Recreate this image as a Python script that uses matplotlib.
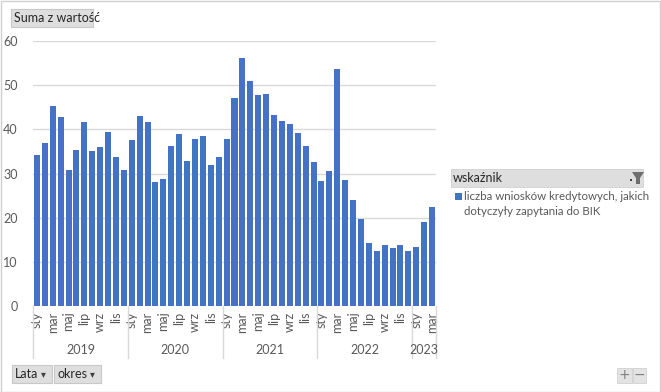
import numpy as np
from matplotlib import pyplot as plt
from matplotlib.patches import Rectangle, Polygon
from matplotlib.lines import Line2D
from matplotlib.transforms import blended_transform_factory

plt.rcParams['font.family'] = ['Lato', 'DejaVu Sans']

W, H = 661, 392
GRAY_TXT = '#595959'
BAR_COLOR = '#4472C4'
GRID = '#D9D9D9'
FS = 8.5

MONTHS = ['sty', 'lut', 'mar', 'kwi', 'maj', 'cze', 'lip', 'sie', 'wrz', 'paź', 'lis', 'gru']
YEARS = ['2019', '2020', '2021', '2022', '2023']
MONTHS_PER_YEAR = [12, 12, 12, 12, 3]

values_2019 = [34.3, 37.0, 45.2, 42.7, 30.8, 35.4, 41.6, 35.2, 36.0, 39.3, 33.7, 30.7]
values_2020 = [37.6, 43.0, 41.7, 28.0, 28.8, 36.2, 38.9, 32.9, 37.9, 38.5, 31.9, 33.7]
values_2021 = [37.7, 47.2, 56.2, 51.0, 47.8, 48.0, 43.2, 42.0, 41.3, 39.1, 36.2, 32.7]
values_2022 = [28.2, 30.5, 53.6, 28.5, 24.0, 19.7, 14.3, 12.5, 13.7, 13.1, 13.7, 12.4]
values_2023 = [13.4, 19.0, 22.4]

SERIES_NAME = 'liczba wniosków kredytowych, jakich\ndotyczyły zapytania do BIK'

values = values_2019 + values_2020 + values_2021 + values_2022 + values_2023
month_labels = []
for n in MONTHS_PER_YEAR:
    month_labels += MONTHS[:n]


def px(x, y):
    # pixel coords (from top-left) -> figure fraction
    return x / W, 1 - y / H


fig = plt.figure(figsize=(W / 100, H / 100), dpi=100)
fig.patch.set_facecolor('white')

ax = fig.add_axes([33 / W, 1 - 306 / H, 403 / W, 265 / H])
x = np.arange(len(values))
ax.bar(x, values, width=0.76, color=BAR_COLOR, zorder=3)
ax.set_xlim(-0.5, len(values) - 0.5)
ax.set_ylim(0, 60)
ax.set_yticks(range(0, 61, 10))
ax.yaxis.grid(True, color=GRID, linewidth=1, zorder=0)
for s in ax.spines.values():
    s.set_visible(False)
ax.tick_params(axis='y', length=0, labelsize=FS + 0.5, labelcolor=GRAY_TXT, pad=11)

shown = [i for i in range(len(values)) if i % 12 % 2 == 0]
ax.set_xticks(shown)
ax.set_xticklabels([month_labels[i] for i in shown], rotation=90)
ax.tick_params(axis='x', length=0, labelsize=FS + 0.5, labelcolor=GRAY_TXT, pad=4)

# year level of the category axis
trans = blended_transform_factory(ax.transData, ax.transAxes)
start = 0
bounds = [-0.5]
for yr, n in zip(YEARS, MONTHS_PER_YEAR):
    center = start + (n - 1) / 2
    ax.text(center, -44 / 265, yr, transform=trans, ha='center', va='center',
            fontsize=FS + 0.5, color=GRAY_TXT)
    start += n
    bounds.append(start - 0.5)
for b in bounds:
    ax.add_line(Line2D([b, b], [0, -52 / 265], transform=trans, color=GRID,
                       linewidth=1, clip_on=False))

# outer border
fig.patches.append(Rectangle((0.5 / W, 0.5 / H), 1 - 1.5 / W, 1 - 1.5 / H,
                             transform=fig.transFigure, fill=False,
                             edgecolor='#D0D0D0', linewidth=1))


def button(x0, y0, x1, y1, label, arrow=False):
    fx, fy = px(x0, y1)
    fig.patches.append(Rectangle((fx, fy), (x1 - x0) / W, (y1 - y0) / H,
                                 transform=fig.transFigure, facecolor='#DEDEDE',
                                 edgecolor='#C8C8C8', linewidth=0.8))
    tx, ty = px(x0 + 3, (y0 + y1) / 2)
    fig.text(tx, ty, label, ha='left', va='center', fontsize=FS + 0.5, color='#262626')
    if arrow:
        ax2, ay2 = px(x1 - 9, (y0 + y1) / 2)
        fig.text(ax2, ay2, '▾', ha='center', va='center', fontsize=7,
                 color='#404040', family=['DejaVu Sans'])


button(11, 9, 93, 27, 'Suma z wartość')
button(12, 365, 52, 383, 'Lata', arrow=True)
button(54, 365, 101, 383, 'okres', arrow=True)

# +/- buttons
for x0, x1, sym in [(617, 632, '+'), (633, 646, '−')]:
    fx, fy = px(x0, 383)
    fig.patches.append(Rectangle((fx, fy), (x1 - x0) / W, 15 / H,
                                 transform=fig.transFigure, facecolor='#E3E3E3',
                                 edgecolor='#D0D0D0', linewidth=0.6))
    tx, ty = px((x0 + x1) / 2, 375)
    fig.text(tx, ty, sym, ha='center', va='center', fontsize=10,
             color='#7F7F7F', family=['DejaVu Sans'])

# legend with field header
fx, fy = px(451, 187)
fig.patches.append(Rectangle((fx, fy), 192 / W, 18 / H, transform=fig.transFigure,
                             facecolor='#DEDEDE', edgecolor='#D0D0D0', linewidth=0.6))
tx, ty = px(453, 178)
fig.text(tx, ty, 'wskaźnik', ha='left', va='center', fontsize=FS + 0.5, color='#262626')
funnel = [px(632, 172), px(644, 172), px(640, 178), px(640, 184), px(636, 184), px(636, 178)]
fig.patches.append(Polygon(funnel, closed=True, transform=fig.transFigure,
                           facecolor='#6E6E6E', edgecolor='none'))
dx, dy = px(630, 181)
fig.patches.append(Rectangle((dx, dy), 2 / W, 2 / H, transform=fig.transFigure,
                             facecolor='#404040', edgecolor='none'))

sx, sy = px(455, 200)
fig.patches.append(Rectangle((sx, sy), 7 / W, 7 / H, transform=fig.transFigure,
                             facecolor=BAR_COLOR, edgecolor='none'))
tx, ty = px(464, 191)
fig.text(tx, ty, SERIES_NAME, ha='left', va='top', fontsize=FS - 0.2, color=GRAY_TXT,
         linespacing=1.45)

fig.savefig('out.png', dpi=100)
